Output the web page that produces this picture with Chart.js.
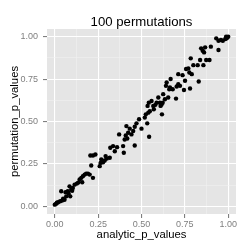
<!DOCTYPE html>
<html>
<head>
<meta charset="utf-8">
<script src="https://cdn.jsdelivr.net/npm/chart.js@4"></script>
<style>
html,body{margin:0;padding:0;background:#fff;}
#wrap{width:249px;height:249px;}
</style>
</head>
<body>
<div id="wrap"><canvas id="c" width="249" height="249"></canvas></div>
<script>
const titleText = "100 permutations";
const xTitle = "analytic_p_values";
const yTitle = "permutation_p_values";
const tickValues = [0, 0.125, 0.25, 0.375, 0.5, 0.625, 0.75, 0.875, 1];
const analytic = [0.000,0.008,0.019,0.031,0.042,0.037,0.056,0.066,0.062,0.075,0.085,0.089,0.095,0.104,0.114,0.127,0.143,0.153,0.162,0.172,0.181,0.191,0.201,0.158,0.220,0.210,0.205,0.220,0.234,0.259,0.264,0.268,0.278,0.288,0.293,0.317,0.320,0.336,0.346,0.359,0.371,0.394,0.398,0.403,0.409,0.413,0.423,0.432,0.442,0.452,0.461,0.461,0.471,0.486,0.500,0.519,0.525,0.533,0.539,0.544,0.535,0.542,0.558,0.568,0.571,0.587,0.597,0.606,0.610,0.618,0.622,0.625,0.635,0.641,0.645,0.654,0.660,0.664,0.668,0.680,0.699,0.703,0.712,0.712,0.722,0.737,0.745,0.751,0.757,0.770,0.776,0.780,0.784,0.790,0.799,0.824,0.830,0.838,0.844,0.853,0.861,0.857,0.867,0.873,0.892,0.900,0.931,0.944,0.944,0.958,0.969,0.983,0.992,1.000,0.988,0.012,0.048,0.080,0.100,0.135,0.276,0.300,0.418,0.548,0.580,0.616];
const permutation = [0.010,0.016,0.024,0.030,0.034,0.089,0.039,0.059,0.083,0.089,0.118,0.059,0.099,0.108,0.128,0.134,0.158,0.168,0.178,0.187,0.193,0.193,0.187,0.142,0.168,0.241,0.300,0.300,0.306,0.237,0.256,0.276,0.260,0.270,0.296,0.286,0.345,0.355,0.325,0.349,0.424,0.355,0.316,0.394,0.418,0.473,0.434,0.458,0.424,0.444,0.469,0.359,0.489,0.513,0.458,0.523,0.542,0.489,0.552,0.410,0.592,0.611,0.621,0.592,0.572,0.611,0.641,0.611,0.592,0.542,0.611,0.661,0.631,0.710,0.730,0.641,0.690,0.700,0.750,0.690,0.635,0.706,0.720,0.779,0.710,0.773,0.686,0.740,0.809,0.813,0.789,0.694,0.872,0.779,0.832,0.832,0.736,0.862,0.931,0.917,0.907,0.832,0.937,0.862,0.862,0.941,0.990,0.921,0.976,0.980,0.976,0.986,0.990,1.000,1.000,0.022,0.045,0.075,0.092,0.140,0.262,0.282,0.400,0.560,0.598,0.600];

const FONT = "'Liberation Sans', Arial, Helvetica, sans-serif";
const points = analytic.map((v, i) => ({x: v, y: permutation[i]}));

const panelBg = {
  id: 'panelBg',
  beforeDraw(chart) {
    const {ctx, chartArea: a} = chart;
    ctx.save();
    ctx.fillStyle = '#E5E5E5';
    ctx.fillRect(a.left, a.top, a.right - a.left, a.bottom - a.top);
    ctx.restore();
  },
  afterDraw(chart) {
    const {ctx, chartArea: a} = chart;
    ctx.save();
    ctx.fillStyle = '#000000';
    ctx.font = '13.2px ' + FONT;
    ctx.textAlign = 'center';
    ctx.textBaseline = 'alphabetic';
    ctx.fillText(titleText, (a.left + a.right) / 2, 25.5);
    ctx.restore();
  }
};

function setTicks(scale) {
  scale.ticks = tickValues.map(v => ({value: v}));
}
function gridOpts() {
  return {
    color: c => (c.index % 2 === 0 ? '#FFFFFF' : '#F2F2F2'),
    lineWidth: c => (c.index % 2 === 0 ? 1.1 : 0.55),
    tickColor: c => (c.index % 2 === 0 ? '#7F7F7F' : 'rgba(0,0,0,0)'),
    tickLength: 4,
    drawOnChartArea: true,
    drawTicks: true
  };
}
function tickLabel(v, i) { return i % 2 === 0 ? Number(v).toFixed(2) : ''; }

new Chart(document.getElementById('c'), {
  type: 'scatter',
  data: {
    datasets: [{
      data: points,
      backgroundColor: '#000000',
      borderColor: '#000000',
      borderWidth: 0,
      pointRadius: 2.2,
      pointHoverRadius: 2.2
    }]
  },
  plugins: [panelBg],
  options: {
    responsive: false,
    animation: false,
    devicePixelRatio: 1,
    layout: {padding: {left: 0, right: 13, top: 29, bottom: 0}},
    plugins: {
      legend: {display: false},
      tooltip: {enabled: false},
      title: {display: false}
    },
    scales: {
      x: {
        type: 'linear',
        min: -0.045,
        max: 1.045,
        afterBuildTicks: setTicks,
        afterFit: s => { s.height = 35; },
        grid: gridOpts(),
        border: {display: false},
        ticks: {
          callback: tickLabel,
          color: '#7F7F7F',
          font: {family: FONT, size: 9},
          padding: 1,
          maxRotation: 0,
          autoSkip: false
        },
        title: {
          display: true,
          text: xTitle,
          color: '#000000',
          font: {family: FONT, size: 11.3},
          padding: {top: 0, bottom: 7}
        }
      },
      y: {
        type: 'linear',
        min: -0.045,
        max: 1.045,
        afterBuildTicks: setTicks,
        afterFit: s => { s.width = 47; },
        grid: gridOpts(),
        border: {display: false},
        ticks: {
          callback: tickLabel,
          color: '#7F7F7F',
          font: {family: FONT, size: 9},
          padding: 5,
          autoSkip: false
        },
        title: {
          display: true,
          text: yTitle,
          color: '#000000',
          font: {family: FONT, size: 11.3},
          padding: {top: 8, bottom: 0}
        }
      }
    }
  }
});
</script>
</body>
</html>
